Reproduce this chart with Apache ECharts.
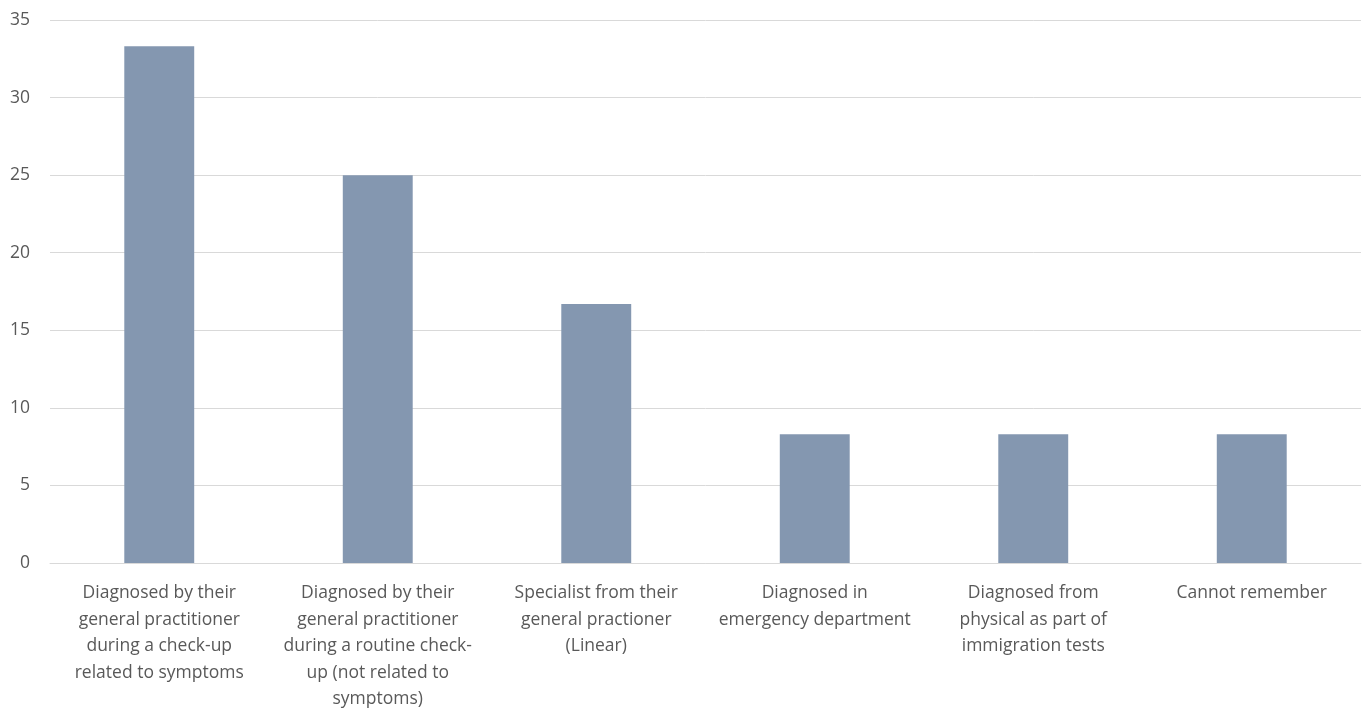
<!DOCTYPE html>
<html>
<head>
<meta charset="utf-8">
<script src="https://cdn.jsdelivr.net/npm/echarts@6/dist/echarts.min.js"></script>
<style>
  html, body { margin: 0; padding: 0; background: #fff; }
  #chart { width: 1369px; height: 713px; }
</style>
</head>
<body>
<div id="chart"></div>
<script>
// How the diagnosis was made (share of respondents)
const categories = [
  'Diagnosed by their\ngeneral practitioner\nduring a check-up\nrelated to symptoms',
  'Diagnosed by their\ngeneral practitioner\nduring a routine check-\nup (not related to\nsymptoms)',
  'Specialist from their\ngeneral practioner\n(Linear)',
  'Diagnosed in\nemergency department',
  'Diagnosed from\nphysical as part of\nimmigration tests',
  'Cannot remember'
];
const values = [33.3, 25.0, 16.7, 8.3, 8.3, 8.3];
const yTicks = { min: 0, max: 35, interval: 5 };

const chart = echarts.init(document.getElementById('chart'));
const textColor = '#595959';
const fontFamily = '"Open Sans", "Noto Sans", sans-serif';

chart.setOption({
  animation: false,
  grid: { left: 50, right: 8, top: 20, bottom: 150, containLabel: false },
  xAxis: {
    type: 'category',
    data: categories,
    axisLine: { show: true, lineStyle: { color: '#d9d9d9', width: 1 } },
    axisTick: { show: false },
    axisLabel: {
      interval: 0,
      color: textColor,
      fontFamily: fontFamily,
      fontSize: 17.5,
      lineHeight: 26.5,
      margin: 17,
      align: 'center'
    }
  },
  yAxis: {
    type: 'value',
    min: yTicks.min,
    max: yTicks.max,
    interval: yTicks.interval,
    axisLine: { show: false },
    axisTick: { show: false },
    splitLine: { lineStyle: { color: '#d9d9d9', width: 1 } },
    axisLabel: {
      color: textColor,
      fontFamily: fontFamily,
      fontSize: 17.5,
      margin: 20
    }
  },
  series: [{
    type: 'bar',
    data: values,
    barWidth: '32%',
    itemStyle: { color: '#8497b0' }
  }]
});
</script>
</body>
</html>
